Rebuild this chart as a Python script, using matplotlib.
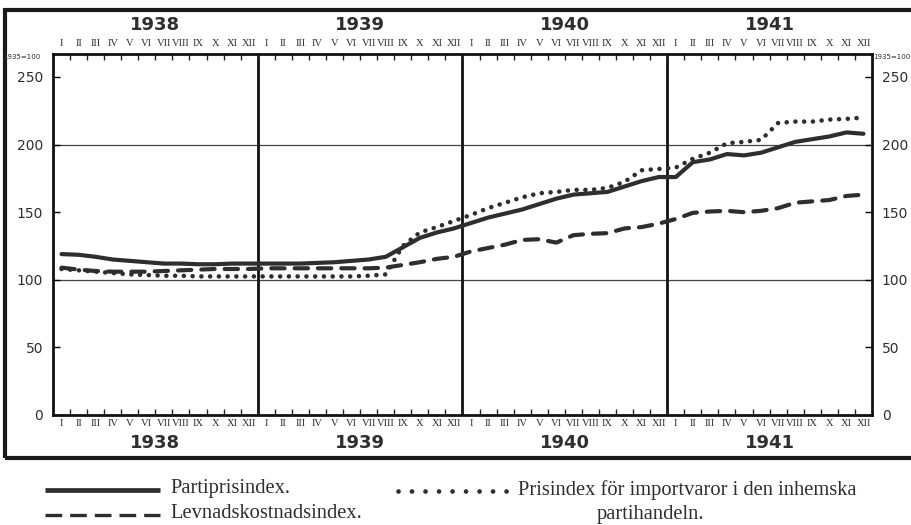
import numpy as np
import matplotlib
matplotlib.use("Agg")
import matplotlib.pyplot as plt
from matplotlib.lines import Line2D
from matplotlib.patches import Rectangle
from matplotlib.transforms import blended_transform_factory

years = ['1938', '1939', '1940', '1941']
months = ['I', 'II', 'III', 'IV', 'V', 'VI', 'VII', 'VIII', 'IX', 'X', 'XI', 'XII']

# monthly values, 1935 = 100, Jan 1938 .. Dec 1941
parti = [119, 118.5, 117, 115, 114, 113, 112, 112, 111.5, 111.5, 112, 112,
         112, 112, 112, 112.5, 113, 114, 115, 117, 124, 131, 135, 138,
         142, 146, 149, 152, 156, 160, 163, 164, 165, 169, 173, 176,
         176, 187, 189, 193, 192, 194, 198, 202, 204, 206, 209, 208]
levnad = [109, 107.5, 106.5, 106, 106, 106, 106.5, 107, 107.5, 108, 108, 108,
          108.5, 108.5, 108.5, 108.5, 108.5, 108.5, 108.5, 109, 111, 113, 115.5, 117,
          121, 123.5, 126, 129.5, 130, 127.5, 133, 134, 134.5, 138, 139, 141.5,
          145, 149.5, 150.5, 151, 150, 151, 153, 157, 158, 159, 162, 163]
importpris = [108, 107, 106, 105, 104, 103.5, 103, 103, 102.5, 102.5, 102.5, 102.5,
              102.5, 102.5, 102.5, 102.5, 102.5, 102.5, 103, 104, 125, 135, 139, 143.5,
              148, 153, 157, 161, 164, 165, 166.5, 166.5, 168, 172.5, 181, 182,
              183, 189.5, 194, 201, 202, 203.5, 216, 217, 217, 218.5, 219, 220]
y_ticks = [0, 50, 100, 150, 200, 250]

ink = '#2e2e2e'
W, H = 912, 525

fig = plt.figure(figsize=(W / 100, H / 100), dpi=100)
ax = fig.add_axes([53 / W, 1 - 415 / H, (872 - 53) / W, (415 - 54) / H])

x = np.arange(len(parti)) + 0.5
ax.plot(x, parti, color=ink, lw=3, solid_capstyle='round', solid_joinstyle='round')
ax.plot(x, levnad, color=ink, lw=3, linestyle=(0, (3.2, 2.4)), dash_capstyle='round')
ax.plot(x, importpris, color=ink, lw=3.3, linestyle=(0, (0.01, 1.9)), dash_capstyle='round')

ax.set_xlim(0, 48)
ax.set_ylim(0, 267)
for v in (100, 200):
    ax.axhline(v, color='#444444', lw=0.9, zorder=0)
for k in (12, 24, 36):
    ax.axvline(k, color='#111111', lw=2, zorder=1)
for s in ax.spines.values():
    s.set_linewidth(2)
    s.set_color('#111111')

ax.set_xticks(range(1, 48))
ax.set_xticklabels([])
ax.tick_params(axis='x', direction='in', length=4, width=1, top=True, color='#222222')
ax.set_yticks(y_ticks)
ax.tick_params(axis='y', direction='in', length=5, width=1, left=True, right=True,
               labelleft=True, labelright=True, labelsize=10, labelcolor=ink, pad=7)

trans = blended_transform_factory(ax.transData, ax.transAxes)
for i in range(48):
    for yy in (1.030, -0.024):
        ax.text(i + 0.5, yy, months[i % 12], transform=trans, ha='center', va='center',
                fontsize=7.6, family='Liberation Serif', color=ink)
for k, yr in enumerate(years):
    for yy in (1.080, -0.078):
        ax.text(12 * k + 6, yy, yr, transform=trans, ha='center', va='center',
                fontsize=13, fontweight='bold', color=ink)

fig.text(3 / W, 1 - 57 / H, '1935=100', fontsize=5, color=ink, va='center')
fig.text(873 / W, 1 - 57 / H, '1935=100', fontsize=5, color=ink, va='center')

# outer frame
fig.add_artist(Rectangle((5 / W, 1 - 458 / H), 915 / W, 448 / H, transform=fig.transFigure,
                         fill=False, lw=3, ec='#1a1a1a'))

# legend
def key(x0, x1, y, **kw):
    fig.add_artist(Line2D([x0 / W, x1 / W], [1 - y / H, 1 - y / H], transform=fig.transFigure,
                          color=ink, **kw))

key(45, 160, 490, lw=3.4, solid_capstyle='butt')
key(45, 160, 515, lw=2.4, linestyle=(0, (5.0, 2.4)), dash_capstyle='butt')
key(398, 510, 491, lw=3.4, linestyle=(0, (0.01, 2.85)), dash_capstyle='round')

lab = dict(fontsize=14.8, family='Liberation Serif', color=ink, va='center')
fig.text(170 / W, 1 - 489 / H, 'Partiprisindex.', **lab)
fig.text(170 / W, 1 - 514 / H, 'Levnadskostnadsindex.', **lab)
fig.text(518 / W, 1 - 490 / H, 'Prisindex för importvaror i den inhemska', **lab)
fig.text(597 / W, 1 - 514 / H, 'partihandeln.', **lab)

fig.savefig('out.png', dpi=100)
